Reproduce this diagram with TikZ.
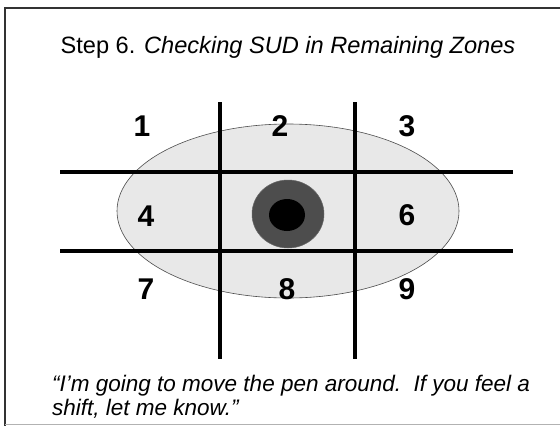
\documentclass[tikz,border=0pt]{standalone}
\usepackage{fontspec}
\setmainfont{Liberation Sans}
\definecolor{zonefill}{HTML}{E8E8E8}
\definecolor{ringgray}{HTML}{4D4D4D}
\definecolor{framegray}{HTML}{333333}
\begin{document}
\begin{tikzpicture}[x=1pt,y=-1pt,
  gridline/.style={line width=4pt,black},
  num/.style={inner sep=0pt,font=\fontsize{30}{30}\selectfont\bfseries},
  caption/.style={inner sep=0pt,anchor=base west,font=\fontsize{22.5}{24}\selectfont\itshape},
]
\useasboundingbox (0,0) rectangle (560,426);
% frame
\draw[framegray,line width=2.5pt] (5,426) -- (5,8) -- (560,8);
\draw[gray!60,line width=1pt] (5,424.5) -- (560,424.5);
% title
\node[inner sep=0pt,anchor=base,font=\fontsize{23.6}{24}\selectfont] (title) at (288,53)
  {Step 6. \textit{Checking SUD in Remaining Zones}};
% zone ellipse
\draw[draw=black!70,line width=0.6pt,fill=zonefill] (288,211) ellipse [x radius=171,y radius=87];
% target
\draw[draw=black!60,line width=0.5pt,fill=ringgray] (288,214) ellipse [x radius=36,y radius=34];
\fill[black] (287,215) ellipse [x radius=18,y radius=16];
% grid
\coordinate (h1a) at (60,172);  \coordinate (h1b) at (513,172);
\coordinate (h2a) at (60,251);  \coordinate (h2b) at (513,251);
\coordinate (v1a) at (220,102); \coordinate (v1b) at (220,359);
\coordinate (v2a) at (355,102); \coordinate (v2b) at (355,359);
\draw[gridline] (h1a) -- (h1b);
\draw[gridline] (h2a) -- (h2b);
\draw[gridline] (v1a) -- (v1b);
\draw[gridline] (v2a) -- (v2b);
% zone numbers
\node[num] (n1) at (142,126) {1};
\node[num] (n2) at (280,126) {2};
\node[num] (n3) at (407,126) {3};
\node[num] (n4) at (146,216) {4};
\node[num] (n6) at (407,215) {6};
\node[num] (n7) at (146,289) {7};
\node[num] (n8) at (287,289) {8};
\node[num] (n9) at (407,289) {9};
% caption
\node[caption] (c1) at (52,391) {“I’m going to move the pen around.\ \ If you feel a};
\node[caption] (c2) at (52,415) {shift, let me know.”};
\end{tikzpicture}
\end{document}
